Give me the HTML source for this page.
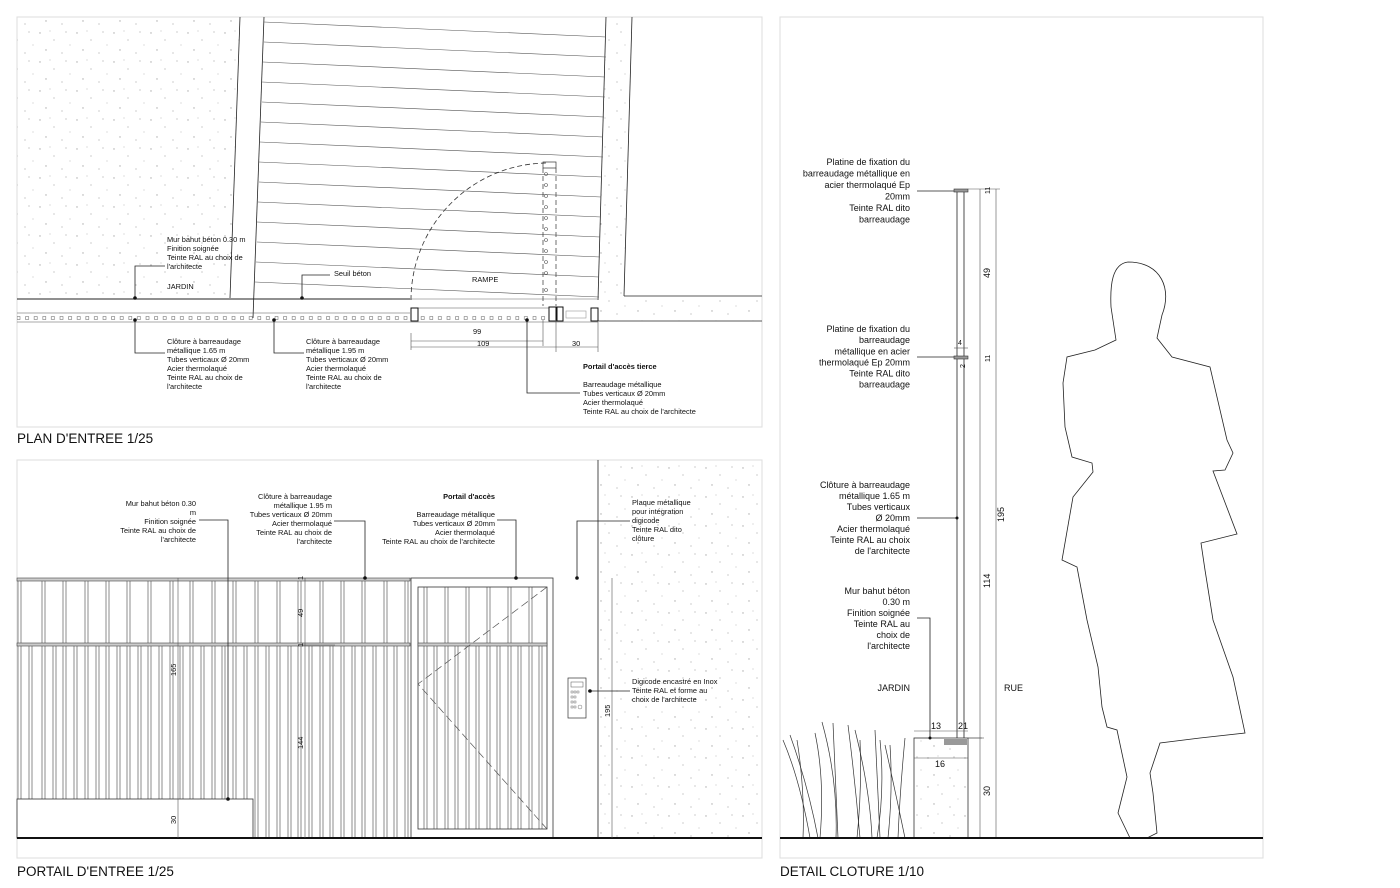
<!DOCTYPE html>
<html><head><meta charset="utf-8"><style>
html,body{margin:0;padding:0;background:#fff;}
svg{display:block;font-family:"Liberation Sans",sans-serif;}
.t{font-size:7.4px;fill:#111;}
.d{font-size:9px;fill:#111;}
.ln{stroke:#222;stroke-width:0.8;fill:none;}
.th{stroke:#555;stroke-width:0.6;fill:none;}
</style></head><body>
<svg width="1400" height="888" viewBox="0 0 1400 888" xmlns="http://www.w3.org/2000/svg">
<defs>
<pattern id="sp" width="37" height="29" patternUnits="userSpaceOnUse">
<g fill="#aaa"><circle cx="3" cy="4" r="0.7"/><circle cx="17" cy="11" r="0.6"/><circle cx="29" cy="3" r="0.6"/><circle cx="9" cy="21" r="0.7"/><circle cx="25" cy="24" r="0.6"/><circle cx="33" cy="16" r="0.5"/><circle cx="13" cy="2" r="0.5"/></g>
</pattern>
<pattern id="ci" width="8.6" height="6" patternUnits="userSpaceOnUse" x="15" y="315">
<rect x="2" y="1.5" width="3" height="3" fill="none" stroke="#777" stroke-width="0.6"/>
</pattern>
</defs>

<!-- frames -->
<rect x="17" y="17" width="745" height="410" fill="none" stroke="#ddd" stroke-width="1"/>
<rect x="17" y="460" width="745" height="398" fill="none" stroke="#ddd" stroke-width="1"/>
<rect x="780" y="17" width="483" height="841" fill="none" stroke="#ddd" stroke-width="1"/>

<!-- ===== PLAN ===== -->
<polygon points="17,17 240,17 230,298 17,298" fill="url(#sp)"/>
<polygon points="606,17 632,17 624,296 762,296 762,321 598,321 602,160" fill="url(#sp)"/>
<line x1="240" y1="17" x2="230" y2="298" class="ln"/>
<line x1="264" y1="17" x2="253" y2="318" class="ln"/>
<line x1="606" y1="17" x2="598" y2="300" class="ln"/>
<line x1="632" y1="17" x2="624" y2="296" class="ln"/>
<line x1="624" y1="296" x2="762" y2="296" class="ln"/>
<g class="th">
<line x1="264" y1="22" x2="606" y2="37"/><line x1="264" y1="42" x2="606" y2="57"/><line x1="263" y1="62" x2="605" y2="77"/>
<line x1="262" y1="82" x2="605" y2="97"/><line x1="262" y1="102" x2="604" y2="117"/><line x1="261" y1="122" x2="603" y2="137"/>
<line x1="260" y1="142" x2="603" y2="157"/><line x1="259" y1="162" x2="602" y2="177"/><line x1="259" y1="182" x2="601" y2="197"/>
<line x1="258" y1="202" x2="601" y2="217"/><line x1="257" y1="222" x2="600" y2="237"/><line x1="257" y1="242" x2="600" y2="257"/>
<line x1="256" y1="262" x2="599" y2="277"/><line x1="255" y1="282" x2="599" y2="297"/>
</g>
<line x1="17" y1="299" x2="410" y2="299" stroke="#222" stroke-width="1"/>
<line x1="410" y1="299" x2="598" y2="299" stroke="#999" stroke-width="0.8"/>
<line x1="17" y1="313" x2="410" y2="313" class="th"/>
<line x1="17" y1="322" x2="598" y2="322" class="th"/>
<rect x="17" y="314" width="530" height="7" fill="url(#ci)"/>
<line x1="418" y1="308" x2="549" y2="308" class="th"/>
<line x1="598" y1="321" x2="762" y2="321" class="ln"/>
<rect x="411" y="308" width="7" height="13" fill="#fff" stroke="#111" stroke-width="1"/>
<rect x="549" y="307" width="7" height="14" fill="#fff" stroke="#111" stroke-width="1"/>
<rect x="557" y="307" width="6" height="14" fill="#fff" stroke="#111" stroke-width="1"/>
<rect x="591" y="308" width="7" height="13" fill="#fff" stroke="#111" stroke-width="1"/>
<rect x="566" y="311" width="20" height="7" fill="none" stroke="#999" stroke-width="0.6"/>
<path d="M411,300 A137,137 0 0 1 548,163" fill="none" stroke="#333" stroke-width="0.8" stroke-dasharray="5,3"/>
<rect x="543" y="162" width="13" height="6" fill="none" stroke="#333" stroke-width="0.7"/>
<line x1="543" y1="168" x2="543" y2="306" stroke="#333" stroke-width="0.7" stroke-dasharray="5,3"/>
<line x1="556" y1="168" x2="556" y2="306" stroke="#333" stroke-width="0.7" stroke-dasharray="5,3"/>
<g fill="none" stroke="#555" stroke-width="0.6">
<circle cx="546" cy="174" r="1.5"/><circle cx="546" cy="185" r="1.5"/><circle cx="546" cy="196" r="1.5"/><circle cx="546" cy="207" r="1.5"/><circle cx="546" cy="218" r="1.5"/><circle cx="546" cy="229" r="1.5"/><circle cx="546" cy="240" r="1.5"/><circle cx="546" cy="251" r="1.5"/><circle cx="546" cy="262" r="1.5"/><circle cx="546" cy="273" r="1.5"/><circle cx="546" cy="290" r="1.5"/>
</g>
<!-- plan dims -->
<g class="th">
<line x1="411" y1="333" x2="411" y2="350"/><line x1="411" y1="341" x2="543" y2="341"/><line x1="543" y1="320" x2="543" y2="346"/>
<line x1="411" y1="347" x2="556" y2="347"/><line x1="556" y1="320" x2="556" y2="352"/><line x1="556" y1="347" x2="598" y2="347"/><line x1="598" y1="322" x2="598" y2="352"/>
</g>
<text x="473" y="334" class="t">99</text>
<text x="477" y="346" class="t">109</text>
<text x="572" y="346" class="t">30</text>
<!-- plan labels -->
<g class="ln" stroke-width="0.6">
<polyline points="165,266 135,266 135,298"/>
<polyline points="330,275 302,275 302,298"/>
<polyline points="165,353 135,353 135,320"/>
<polyline points="304,353 274,353 274,320"/>
<polyline points="580,393 527,393 527,320"/>
</g>
<g fill="#111"><circle cx="135" cy="298" r="1.8"/><circle cx="302" cy="298" r="1.8"/><circle cx="135" cy="320" r="1.8"/><circle cx="274" cy="320" r="1.8"/><circle cx="527" cy="320" r="1.8"/></g>
<text class="t"><tspan x="167" y="242">Mur bahut béton 0.30 m</tspan><tspan x="167" y="251">Finition soignée</tspan><tspan x="167" y="260">Teinte RAL au choix de</tspan><tspan x="167" y="269">l'architecte</tspan><tspan x="167" y="289">JARDIN</tspan></text>
<text x="334" y="276" class="t">Seuil béton</text>
<text x="472" y="282" class="t">RAMPE</text>
<text class="t"><tspan x="167" y="344">Clôture à barreaudage</tspan><tspan x="167" y="353">métallique 1.65 m</tspan><tspan x="167" y="362">Tubes verticaux Ø 20mm</tspan><tspan x="167" y="371">Acier thermolaqué</tspan><tspan x="167" y="380">Teinte RAL au choix de</tspan><tspan x="167" y="389">l'architecte</tspan></text>
<text class="t"><tspan x="306" y="344">Clôture à barreaudage</tspan><tspan x="306" y="353">métallique 1.95 m</tspan><tspan x="306" y="362">Tubes verticaux Ø 20mm</tspan><tspan x="306" y="371">Acier thermolaqué</tspan><tspan x="306" y="380">Teinte RAL au choix de</tspan><tspan x="306" y="389">l'architecte</tspan></text>
<text x="583" y="369" class="t" font-weight="bold">Portail d'accès tierce</text>
<text class="t"><tspan x="583" y="387">Barreaudage métallique</tspan><tspan x="583" y="396">Tubes verticaux Ø 20mm</tspan><tspan x="583" y="405">Acier thermolaqué</tspan><tspan x="583" y="414">Teinte RAL au choix de l'architecte</tspan></text>
<text x="17" y="443" font-size="13.5" fill="#111">PLAN D'ENTREE 1/25</text>

<!-- ===== PORTAIL ===== -->
<rect x="598" y="460" width="164" height="378" fill="url(#sp)"/>
<line x1="598" y1="460" x2="598" y2="838" class="ln"/>
<!-- upper bars -->
<g stroke="#444" stroke-width="0.6">
<path d="M18,580V645M21,580V645M42,580V645M45,580V645M63,580V645M66,580V645M85,580V645M88,580V645M106,580V645M109,580V645M127,580V645M130,580V645M148,580V645M151,580V645M170,580V645M173,580V645M190,580V645M193,580V645M212,580V645M215,580V645M233,580V645M236,580V645M255,580V645M258,580V645M277,580V645M280,580V645M298,580V645M301,580V645M320,580V645M323,580V645M341,580V645M344,580V645M362,580V645M365,580V645M384,580V645M387,580V645M405,580V645M408,580V645"/>
<path d="M18,645V799M21,645V799M29,645V799M32,645V799M42,645V799M45,645V799M53,645V799M56,645V799M63,645V799M66,645V799M74,645V799M77,645V799M85,645V799M88,645V799M96,645V799M99,645V799M106,645V799M109,645V799M117,645V799M120,645V799M127,645V799M130,645V799M138,645V799M141,645V799M148,645V799M151,645V799M159,645V799M162,645V799M170,645V799M173,645V799M180,645V799M183,645V799M190,645V799M193,645V799M201,645V799M204,645V799M212,645V799M215,645V799M222,645V799M225,645V799M233,645V799M236,645V799M244,645V799M247,645V799"/>
<path d="M255,645V838M258,645V838M266,645V838M269,645V838M277,645V838M280,645V838M288,645V838M291,645V838M298,645V838M301,645V838M309,645V838M312,645V838M320,645V838M323,645V838M330,645V838M333,645V838M341,645V838M344,645V838M352,645V838M355,645V838M362,645V838M365,645V838M373,645V838M376,645V838M384,645V838M387,645V838M394,645V838M397,645V838M405,645V838M408,645V838"/>
</g>
<rect x="17" y="578" width="393" height="3" fill="#ccc" stroke="#444" stroke-width="0.6"/>
<rect x="17" y="643" width="393" height="3" fill="#ccc" stroke="#444" stroke-width="0.6"/>
<rect x="17" y="799" width="236" height="39" fill="#fff" stroke="#333" stroke-width="0.8"/>
<!-- gate -->
<rect x="411" y="578" width="142" height="260" fill="none" stroke="#333" stroke-width="0.8"/>
<rect x="418" y="587" width="129" height="242" fill="none" stroke="#333" stroke-width="0.8"/>
<g stroke="#444" stroke-width="0.6">
<path d="M424,587V643M427,587V643M445,587V643M448,587V643M466,587V643M469,587V643M487,587V643M490,587V643M508,587V643M511,587V643M529,587V643M532,587V643"/>
<path d="M424,646V829M427,646V829M434,646V829M437,646V829M445,646V829M448,646V829M455,646V829M458,646V829M466,646V829M469,646V829M476,646V829M479,646V829M487,646V829M490,646V829M497,646V829M500,646V829M508,646V829M511,646V829M518,646V829M521,646V829M529,646V829M532,646V829M539,646V829M542,646V829"/>
</g>
<rect x="418" y="643" width="129" height="3" fill="#ccc" stroke="#444" stroke-width="0.6"/>
<polyline points="547,587 418,684 547,829" fill="none" stroke="#555" stroke-width="0.7" stroke-dasharray="8,4"/>
<!-- digicode -->
<rect x="568" y="678" width="18" height="40" fill="#fff" stroke="#333" stroke-width="0.7"/>
<rect x="571" y="682" width="12" height="5" fill="none" stroke="#555" stroke-width="0.5"/>
<g fill="none" stroke="#555" stroke-width="0.4"><rect x="571" y="691" width="2" height="2"/><rect x="574" y="691" width="2" height="2"/><rect x="577" y="691" width="2" height="2"/><rect x="571" y="696" width="2" height="2"/><rect x="574" y="696" width="2" height="2"/><rect x="571" y="701" width="2" height="2"/><rect x="574" y="701" width="2" height="2"/><rect x="571" y="706" width="2" height="2"/><rect x="574" y="706" width="2" height="2"/><circle cx="580" cy="707" r="2"/></g>
<line x1="17" y1="838" x2="762" y2="838" stroke="#111" stroke-width="2"/>
<!-- dims -->
<g class="th">
<line x1="178" y1="578" x2="178" y2="838"/><line x1="305" y1="578" x2="305" y2="838"/><line x1="612" y1="578" x2="612" y2="838"/>
<line x1="302" y1="645" x2="335" y2="645"/>
</g>
<g class="t" font-size="7px">
<text transform="translate(176,676) rotate(-90)">165</text>
<text transform="translate(176,824) rotate(-90)">30</text>
<text transform="translate(303,580) rotate(-90)">1</text>
<text transform="translate(303,617) rotate(-90)">49</text>
<text transform="translate(303,647) rotate(-90)">1</text>
<text transform="translate(303,749) rotate(-90)">144</text>
<text transform="translate(610,717) rotate(-90)">195</text>
</g>
<!-- portail labels -->
<g class="ln" stroke-width="0.6">
<polyline points="199,520 228,520 228,799"/>
<polyline points="334,521 365,521 365,578"/>
<polyline points="497,520 516,520 516,578"/>
<polyline points="630,521 577,521 577,578"/>
<line x1="630" y1="691" x2="588" y2="691"/>
</g>
<g fill="#111"><circle cx="228" cy="799" r="1.8"/><circle cx="365" cy="578" r="1.8"/><circle cx="516" cy="578" r="1.8"/><circle cx="577" cy="578" r="1.8"/><circle cx="590" cy="691" r="1.8"/></g>
<text class="t" text-anchor="end"><tspan x="196" y="506">Mur bahut béton 0.30</tspan><tspan x="196" y="515">m</tspan><tspan x="196" y="524">Finition soignée</tspan><tspan x="196" y="533">Teinte RAL au choix de</tspan><tspan x="196" y="542">l'architecte</tspan></text>
<text class="t" text-anchor="end"><tspan x="332" y="499">Clôture à barreaudage</tspan><tspan x="332" y="508">métallique 1.95 m</tspan><tspan x="332" y="517">Tubes verticaux Ø 20mm</tspan><tspan x="332" y="526">Acier thermolaqué</tspan><tspan x="332" y="535">Teinte RAL au choix de</tspan><tspan x="332" y="544">l'architecte</tspan></text>
<text x="495" y="499" class="t" text-anchor="end" font-weight="bold">Portail d'accès</text>
<text class="t" text-anchor="end"><tspan x="495" y="517">Barreaudage métallique</tspan><tspan x="495" y="526">Tubes verticaux Ø 20mm</tspan><tspan x="495" y="535">Acier thermolaqué</tspan><tspan x="495" y="544">Teinte RAL au choix de l'architecte</tspan></text>
<text class="t"><tspan x="632" y="505">Plaque métallique</tspan><tspan x="632" y="514">pour intégration</tspan><tspan x="632" y="523">digicode</tspan><tspan x="632" y="532">Teinte RAL dito</tspan><tspan x="632" y="541">clôture</tspan></text>
<text class="t"><tspan x="632" y="684">Digicode encastré en Inox</tspan><tspan x="632" y="693">Teinte RAL et forme au</tspan><tspan x="632" y="702">choix de l'architecte</tspan></text>
<text x="17" y="876" font-size="13.5" fill="#111">PORTAIL D'ENTREE 1/25</text>

<!-- ===== DETAIL ===== -->
<line x1="957" y1="190" x2="957" y2="738" class="ln"/>
<line x1="964" y1="190" x2="964" y2="738" class="ln"/>
<rect x="954" y="189" width="14" height="3" fill="#999" stroke="#333" stroke-width="0.6"/>
<rect x="954" y="356" width="14" height="3" fill="#999" stroke="#333" stroke-width="0.6"/>
<g class="th">
<line x1="980" y1="189" x2="980" y2="838"/><line x1="996" y1="189" x2="996" y2="838"/>
<line x1="968" y1="189" x2="1000" y2="189"/><line x1="968" y1="738" x2="984" y2="738"/>
<line x1="954" y1="348" x2="968" y2="348"/>
</g>
<g class="d">
<text transform="translate(990,278) rotate(-90)">49</text>
<text transform="translate(990,194) rotate(-90)" font-size="7px">11</text>
<text transform="translate(990,362) rotate(-90)" font-size="7px">11</text>
<text transform="translate(990,588) rotate(-90)">114</text>
<text transform="translate(1004,522) rotate(-90)">195</text>
<text transform="translate(990,796) rotate(-90)">30</text>
<text x="958" y="345" font-size="7px">4</text>
<text transform="translate(965,368) rotate(-90)" font-size="7px">2</text>
</g>
<!-- wall -->
<rect x="914" y="738" width="54" height="100" fill="url(#sp)" stroke="#333" stroke-width="0.8"/>
<rect x="944" y="739" width="23" height="6" fill="#999"/>
<g class="th"><line x1="914" y1="731" x2="968" y2="731"/><line x1="914" y1="758" x2="968" y2="758"/><line x1="968" y1="738" x2="982" y2="738"/></g>
<text x="931" y="729" class="d">13</text>
<text x="958" y="729" class="d">21</text>
<text x="935" y="767" class="d">16</text>
<!-- labels -->
<g class="ln" stroke-width="0.6">
<line x1="917" y1="191" x2="954" y2="191"/>
<line x1="917" y1="357" x2="954" y2="357"/>
<line x1="917" y1="518" x2="957" y2="518"/>
<polyline points="917,618 930,618 930,738"/>
</g>
<g fill="#111"><circle cx="957" cy="518" r="1.5"/><circle cx="930" cy="738" r="1.5"/></g>
<text class="d" text-anchor="end"><tspan x="910" y="165">Platine de fixation du</tspan><tspan x="910" y="176.5">barreaudage métallique en</tspan><tspan x="910" y="188">acier thermolaqué Ep</tspan><tspan x="910" y="199.5">20mm</tspan><tspan x="910" y="211">Teinte RAL dito</tspan><tspan x="910" y="222.5">barreaudage</tspan></text>
<text class="d" text-anchor="end"><tspan x="910" y="332">Platine de fixation du</tspan><tspan x="910" y="343">barreaudage</tspan><tspan x="910" y="354.5">métallique en acier</tspan><tspan x="910" y="365.5">thermolaqué Ep 20mm</tspan><tspan x="910" y="376.5">Teinte RAL dito</tspan><tspan x="910" y="387.5">barreaudage</tspan></text>
<text class="d" text-anchor="end"><tspan x="910" y="488">Clôture à barreaudage</tspan><tspan x="910" y="499">métallique 1.65 m</tspan><tspan x="910" y="510">Tubes verticaux</tspan><tspan x="910" y="521">Ø 20mm</tspan><tspan x="910" y="532">Acier thermolaqué</tspan><tspan x="910" y="543">Teinte RAL au choix</tspan><tspan x="910" y="554">de l'architecte</tspan></text>
<text class="d" text-anchor="end"><tspan x="910" y="594">Mur bahut béton</tspan><tspan x="910" y="605">0.30 m</tspan><tspan x="910" y="616">Finition soignée</tspan><tspan x="910" y="627">Teinte RAL au</tspan><tspan x="910" y="638">choix de</tspan><tspan x="910" y="649">l'architecte</tspan></text>
<text x="910" y="691" class="d" text-anchor="end">JARDIN</text>
<text x="1004" y="691" class="d">RUE</text>
<!-- grass -->
<g fill="none" stroke="#333" stroke-width="0.7">
<path d="M783,740 Q800,780 810,838"/><path d="M790,735 Q808,785 818,838"/><path d="M797,740 Q805,790 803,838"/>
<path d="M815,733 Q825,780 820,838"/><path d="M822,722 Q838,780 836,838"/><path d="M833,723 Q836,790 838,838"/>
<path d="M848,725 Q855,780 860,838"/><path d="M855,730 Q870,790 872,838"/><path d="M860,740 Q862,790 857,838"/>
<path d="M875,730 Q878,790 880,838"/><path d="M880,740 Q885,790 877,838"/><path d="M890,745 Q893,790 888,838"/>
<path d="M905,738 Q900,790 898,838"/><path d="M885,745 Q895,790 905,838"/>
</g>
<!-- person -->
<path d="M1128,262 C1112,264 1110,285 1111,307 L1116,340 L1095,350 L1067,357 L1063,383 L1065,427 L1072,457 L1092,463 L1093,472 L1073,497 L1062,560 L1077,567 L1087,620 L1098,667 L1102,707 L1107,727 L1117,730 L1127,777 L1118,813 L1130,838 L1147,838 L1157,833 L1153,793 L1150,773 L1160,743 L1200,738 L1245,733 L1233,677 L1213,620 L1205,570 L1201,543 L1237,534 L1213,471 L1225,470 L1233,453 L1227,440 L1210,367 L1172,357 L1157,338 L1162,315 C1172,290 1162,262 1128,262 Z" fill="#fff" stroke="#222" stroke-width="0.8"/>
<line x1="780" y1="838" x2="1263" y2="838" stroke="#111" stroke-width="2"/>
<text x="780" y="876" font-size="13.5" fill="#111">DETAIL CLOTURE 1/10</text>
</svg>
</body></html>
